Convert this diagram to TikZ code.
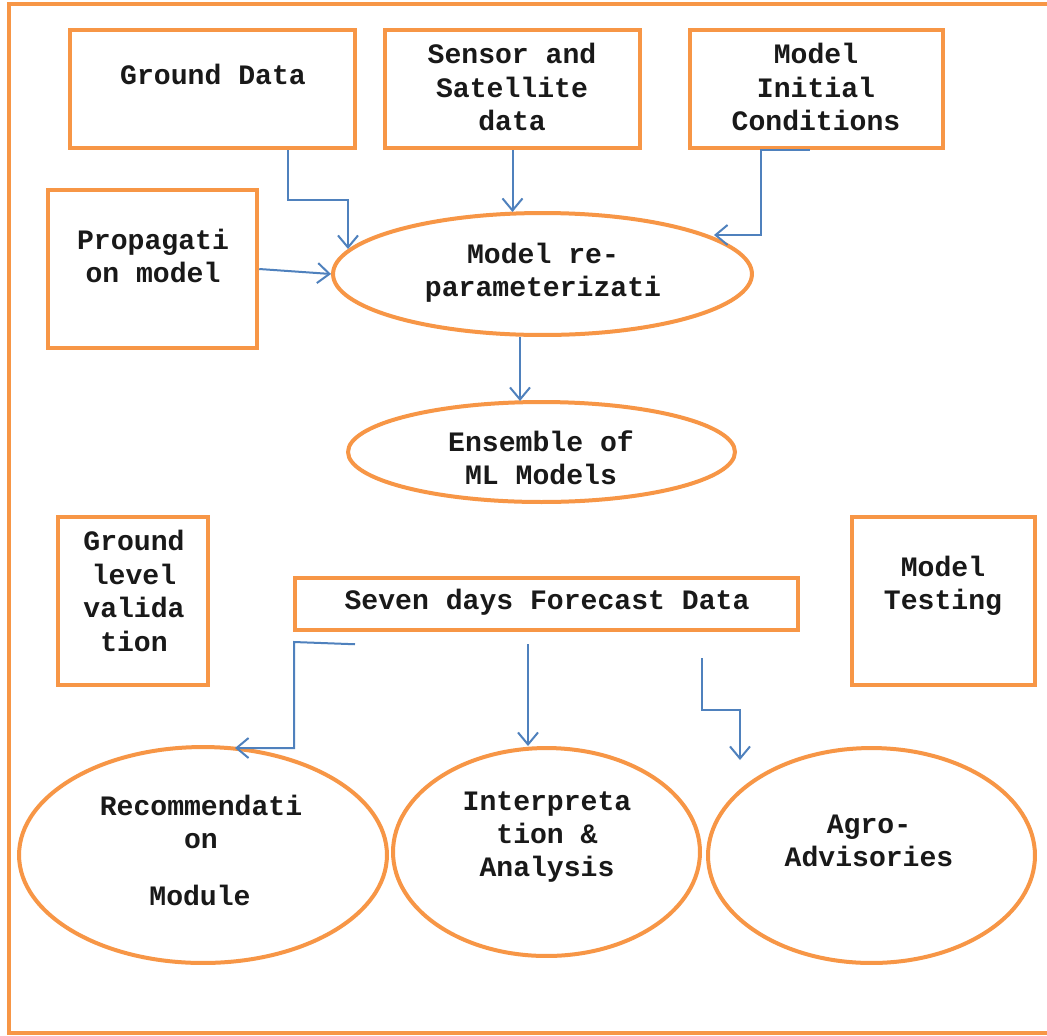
\documentclass[tikz,border=0pt]{standalone}
\usepackage{fontspec}
\setmainfont{Liberation Mono}
\usetikzlibrary{shapes.geometric,arrows.meta,calc}
\definecolor{orng}{HTML}{F79646}
\definecolor{blu}{HTML}{4F81BD}
\begin{document}
\begin{tikzpicture}[x=0.02cm,y=-0.02cm,
  box/.style={draw=orng,line width=0.09cm,rectangle,inner sep=0pt},
  ell/.style={draw=orng,line width=0.08cm,ellipse,inner sep=0pt},
  txt/.style={align=center,inner sep=0pt,font=\bfseries\fontsize{16}{19}\selectfont,text=black!90},
  arr/.style={draw=blu,line width=0.04cm,-{Straight Barb[length=0.24cm,width=0.4cm,line width=0.04cm]}}]
\useasboundingbox (0,0) rectangle (1047,1035);
\fill[white] (0,0) rectangle (1047,1035);
% outer frame
\draw[orng,line width=0.07cm] (1050,4) -- (9,4) -- (9,1033) -- (1050,1033);
% boxes
\node[box,minimum width=5.7cm,minimum height=2.36cm] (gd) at (212.5,89) {};
\node[box,minimum width=5.1cm,minimum height=2.36cm] (ssd) at (512.5,89) {};
\node[box,minimum width=5.06cm,minimum height=2.36cm] (mic) at (816.5,89) {};
\node[box,minimum width=4.18cm,minimum height=3.16cm] (prop) at (152.5,269) {};
\node[ell,minimum width=8.38cm,minimum height=2.44cm] (rp) at (542.5,274) {};
\node[ell,minimum width=7.74cm,minimum height=2.0cm] (ens) at (541.5,452) {};
\node[box,minimum width=3.0cm,minimum height=3.36cm] (glv) at (133,601) {};
\node[box,minimum width=10.06cm,minimum height=1.04cm] (sdf) at (546.5,604) {};
\node[box,minimum width=3.66cm,minimum height=3.36cm] (mt) at (943.5,601) {};
\node[ell,minimum width=7.36cm,minimum height=4.32cm] (rec) at (203,855) {};
\node[ell,minimum width=6.14cm,minimum height=4.16cm] (ia) at (546.5,852) {};
\node[ell,minimum width=6.54cm,minimum height=4.3cm] (agro) at (871.5,855.5) {};
% texts
\node[txt] (gd-t) at (213,74) {Ground Data};
\node[txt] (ssd-t) at (512,87) {Sensor and\\Satellite\\data};
\node[txt] (mic-t) at (816,87) {Model\\Initial\\Conditions};
\node[txt] (prop-t) at (153,256) {Propagati\\on model};
\node[txt] (rp-t) at (543,273) {Model re-\\parameterizati};
\node[txt] (ens-t) at (541,458) {Ensemble of\\ML Models};
\node[txt] (glv-t) at (134,591) {Ground\\level\\valida\\tion};
\node[txt] (sdf-t) at (547,602) {Seven days Forecast Data};
\node[txt] (mt-t) at (943,586) {Model\\Testing};
\node[txt] (rec-t1) at (201,822) {Recommendati\\on};
\node[txt] (rec-t2) at (200,895) {Module};
\node[txt] (ia-t) at (547,837) {Interpreta\\tion \&\\Analysis};
\node[txt] (agro-t) at (869,841) {Agro-\\Advisories};
% connectors
\draw[arr] ($(gd.south)+(75.5,0)$) |- (348,200) -- (348,249);
\draw[arr] (ssd.south) -- (ssd.south |- 0,212);
\draw[arr] ($(mic.south)+(-7,0)$) -- ++(-49,0) |- (714,235);
\draw[arr] (prop.east) -- (rp.west);
\draw[arr] ($(rp.south)+(-22.5,0)$) -- (520,401);
\draw[arr] ($(sdf.south)+(-191.5,12)$) -- (294,642) |- (235,748);
\draw[arr] ($(sdf.south)+(-18.5,12)$) -- (528,746);
\draw[arr] ($(sdf.south)+(155.5,26)$) |- (740,710) -- (740,760);
\end{tikzpicture}
\end{document}
